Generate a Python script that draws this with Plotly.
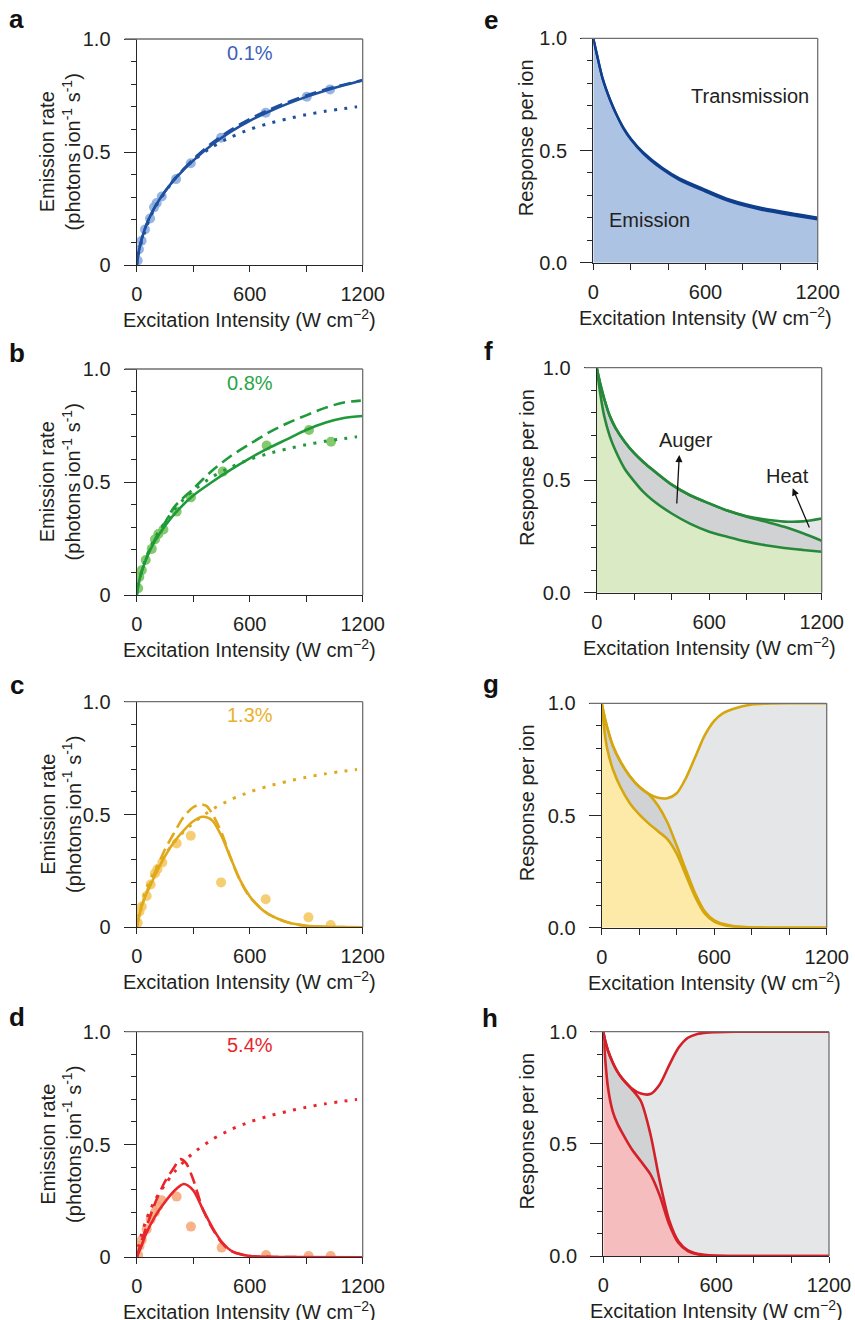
import plotly.graph_objects as go

W, H = 855, 1320
FONT = "Liberation Sans, Arial, Helvetica, sans-serif"
TXT = "#231f20"
AX = "#262626"
FRAME = "#707070"

# ---------------- data ----------------
# Excitation intensity (W cm^-2) vs emission rate (photons ion^-1 s^-1)

# model without heating (dotted, same in every left panel)
ref_x = [0, 10, 25, 50, 75, 100, 150, 200, 250, 300, 400, 500, 600, 700, 800, 900, 1000, 1100, 1170]
ref_y = [0, 0.05, 0.10, 0.165, 0.215, 0.258, 0.322, 0.378, 0.424, 0.462, 0.522, 0.566, 0.600,
         0.626, 0.647, 0.665, 0.680, 0.692, 0.700]

# 0.1 %
a_pts_x = [5, 12, 26, 44, 71, 92, 106, 133, 209, 287, 448, 685, 903, 1027]
a_pts_y = [0.02, 0.07, 0.107, 0.157, 0.206, 0.255, 0.274, 0.303, 0.38, 0.45, 0.563, 0.674, 0.745, 0.777]
a_fit_x = [0, 10, 25, 50, 75, 100, 150, 200, 300, 400, 500, 600, 700, 800, 900, 1000, 1100, 1200]
a_full_y = [0, 0.055, 0.11, 0.175, 0.222, 0.262, 0.325, 0.378, 0.462, 0.532, 0.59, 0.638, 0.678,
            0.713, 0.744, 0.771, 0.795, 0.816]
a_auger_y = [0, 0.055, 0.11, 0.175, 0.222, 0.262, 0.325, 0.38, 0.468, 0.54, 0.598, 0.646, 0.686,
             0.72, 0.75, 0.776, 0.798, 0.818]

# 0.8 %
b_pts_x = [8, 14, 27, 48, 80, 97, 115, 142, 212, 288, 457, 690, 915, 1032]
b_pts_y = [0.03, 0.08, 0.11, 0.155, 0.204, 0.246, 0.27, 0.29, 0.369, 0.432, 0.546, 0.661, 0.73, 0.678]
b_full_x = [0, 10, 25, 50, 75, 100, 150, 200, 300, 400, 500, 600, 700, 800, 900, 1000, 1100, 1200]
b_full_y = [0, 0.05, 0.10, 0.158, 0.205, 0.243, 0.305, 0.358, 0.44, 0.50, 0.555, 0.605, 0.65,
            0.69, 0.73, 0.762, 0.783, 0.792]
b_auger_x = [0, 10, 25, 50, 75, 100, 150, 200, 300, 400, 500, 600, 700, 800, 900, 1000, 1100, 1190]
b_auger_y = [0, 0.05, 0.10, 0.16, 0.21, 0.25, 0.32, 0.39, 0.47, 0.55, 0.615, 0.668, 0.718,
             0.76, 0.795, 0.828, 0.852, 0.86]

# 1.3 %
c_pts_x = [5, 15, 27, 53, 74, 97, 110, 136, 212, 287, 448, 685, 912, 1030]
c_pts_y = [0.02, 0.07, 0.092, 0.139, 0.19, 0.239, 0.257, 0.287, 0.372, 0.406, 0.199, 0.124, 0.044, 0.01]
c_full_x = [0, 25, 50, 75, 100, 150, 200, 250, 300, 350, 400, 450, 500, 550, 600, 650, 700, 800,
            900, 1000, 1100, 1200]
c_full_y = [0, 0.09, 0.145, 0.19, 0.235, 0.315, 0.38, 0.43, 0.47, 0.49, 0.475, 0.405, 0.305, 0.208,
            0.138, 0.09, 0.058, 0.022, 0.007, 0.002, 0.001, 0]
c_auger_x = [0, 25, 50, 100, 150, 200, 250, 300, 340, 370, 400, 450, 500, 550, 600, 700, 800, 900,
             1000, 1200]
c_auger_y = [0, 0.09, 0.15, 0.25, 0.345, 0.42, 0.49, 0.532, 0.545, 0.538, 0.505, 0.42, 0.305, 0.205,
             0.135, 0.058, 0.022, 0.006, 0.002, 0]

# 5.4 %
d_pts_x = [8, 15, 27, 53, 74, 97, 113, 133, 212, 288, 451, 687, 913, 1030]
d_pts_y = [0.01, 0.05, 0.077, 0.124, 0.168, 0.2, 0.225, 0.253, 0.269, 0.136, 0.043, 0.01, 0.006, 0.006]
d_full_x = [0, 25, 50, 100, 150, 200, 250, 300, 350, 400, 450, 500, 550, 600, 700, 800, 1200]
d_full_y = [0, 0.05, 0.105, 0.185, 0.245, 0.295, 0.325, 0.297, 0.215, 0.135, 0.07, 0.03, 0.013,
            0.006, 0.002, 0.001, 0]
d_auger_x = [0, 25, 50, 100, 150, 200, 230, 260, 300, 350, 400, 450, 500, 600, 800, 1200]
d_auger_y = [0, 0.07, 0.13, 0.245, 0.335, 0.40, 0.435, 0.42, 0.345, 0.215, 0.13, 0.066, 0.028,
             0.006, 0.001, 0]

# response per ion, 0.1 %
e_x = [0, 20, 50, 90, 125, 160, 200, 270, 370, 460, 600, 730, 900, 1090, 1200]
e_emis = [1, 0.925, 0.82, 0.725, 0.658, 0.6, 0.55, 0.484, 0.416, 0.369, 0.317, 0.273, 0.236, 0.208, 0.193]
e_trans = [1, 0.925, 0.82, 0.725, 0.658, 0.603, 0.554, 0.489, 0.422, 0.376, 0.325, 0.281, 0.244, 0.216, 0.201]

# response per ion, 0.8 %
f_x = [0, 20, 40, 70, 100, 150, 200, 250, 300, 400, 500, 600, 700, 800, 900, 1000, 1100, 1200]
f_emis = [1, 0.88, 0.785, 0.695, 0.632, 0.55, 0.495, 0.447, 0.41, 0.352, 0.306, 0.271, 0.248,
          0.227, 0.211, 0.199, 0.19, 0.182]
f_auger = [1, 0.925, 0.862, 0.785, 0.733, 0.67, 0.62, 0.58, 0.545, 0.48, 0.432, 0.397, 0.364,
           0.338, 0.316, 0.293, 0.264, 0.231]
f_heat = [1, 0.925, 0.862, 0.785, 0.733, 0.67, 0.62, 0.58, 0.545, 0.48, 0.432, 0.397, 0.364,
          0.34, 0.325, 0.316, 0.317, 0.33]

# response per ion, 1.3 %
g_x = [0, 15, 30, 60, 100, 150, 200, 250, 300, 350, 400, 450, 500, 550, 600, 650, 700, 800, 900, 1000, 1200]
g_emis = [1, 0.875, 0.795, 0.705, 0.627, 0.555, 0.505, 0.465, 0.43, 0.395, 0.33, 0.232, 0.135,
          0.062, 0.027, 0.012, 0.005, 0.001, 0, 0, 0]
g_auger = [1, 0.94, 0.89, 0.81, 0.74, 0.675, 0.628, 0.596, 0.545, 0.47, 0.366, 0.255, 0.15,
           0.072, 0.033, 0.016, 0.007, 0.001, 0, 0, 0]
g_heat = [1, 0.94, 0.89, 0.81, 0.74, 0.675, 0.628, 0.596, 0.579, 0.577, 0.599, 0.668, 0.763,
          0.858, 0.922, 0.957, 0.975, 0.995, 0.999, 1, 1]

# response per ion, 5.4 %
h_x = [0, 10, 25, 50, 75, 100, 150, 200, 250, 300, 350, 400, 450, 500, 550, 600, 700, 800, 1200]
h_emis = [1, 0.88, 0.75, 0.645, 0.59, 0.55, 0.478, 0.422, 0.365, 0.27, 0.142, 0.058, 0.022,
          0.008, 0.003, 0.001, 0, 0, 0]
h_auger = [1, 0.96, 0.915, 0.863, 0.822, 0.792, 0.745, 0.69, 0.545, 0.335, 0.16, 0.065, 0.025,
           0.01, 0.004, 0.001, 0, 0, 0]
h_heat = [1, 0.96, 0.915, 0.863, 0.822, 0.792, 0.748, 0.724, 0.722, 0.765, 0.85, 0.928, 0.973,
          0.99, 0.996, 0.998, 1, 1, 1]

# ---------------- layout helpers ----------------
# plot-area boxes in pixels: left, top, right, bottom
BOXES = {
    "a": (136.7, 39.0, 362.7, 265.0),
    "b": (136.7, 369.0, 362.7, 595.0),
    "c": (136.7, 701.7, 362.7, 927.3),
    "d": (136.7, 1031.7, 362.7, 1257.3),
    "e": (593.3, 38.3, 817.7, 262.7),
    "f": (596.7, 367.7, 821.7, 592.7),
    "g": (601.7, 703.3, 826.7, 927.7),
    "h": (603.3, 1031.7, 829.0, 1256.0),
}
ORDER = ["a", "b", "c", "d", "e", "f", "g", "h"]


def ax_ids(key):
    i = ORDER.index(key) + 1
    s = "" if i == 1 else str(i)
    return "x" + s, "y" + s, "xaxis" + s, "yaxis" + s


def px(xp):
    return xp / W


def py(yp):
    return 1 - yp / H


fig = go.Figure()
layout_axes = {}
annotations = []
shapes = []


def make_axes(key, left_style):
    l, t, r, b = BOXES[key]
    xid, yid, xname, yname = ax_ids(key)
    minor_x = [300, 900] if left_style else [200, 400, 800, 1000]
    layout_axes[xname] = dict(
        domain=[px(l), px(r)], anchor=yid, range=[0, 1200], automargin=False,
        tickmode="array", tickvals=[0, 600, 1200], ticktext=["0", "600", "1200"],
        ticks="outside", ticklen=6, tickwidth=1.3, tickcolor=AX,
        minor=dict(tickmode="array", tickvals=minor_x, ticks="outside",
                   ticklen=6, tickwidth=1.3, tickcolor=AX),
        showline=True, linecolor=AX, linewidth=1.3, mirror=False,
        showgrid=False, zeroline=False, fixedrange=True,
        tickfont=dict(family=FONT, size=20, color=TXT), ticklabelstandoff=5,
    )
    layout_axes[yname] = dict(
        domain=[py(b), py(t)], anchor=xid, range=[0, 1], automargin=False,
        tickmode="array", tickvals=[0, 0.5, 1],
        ticktext=["0", "0.5", "1.0"] if left_style else ["0.0", "0.5", "1.0"],
        ticks="outside", ticklen=12, tickwidth=1.3, tickcolor=AX,
        minor=dict(tickmode="array", tickvals=[0.1, 0.2, 0.3, 0.4, 0.6, 0.7, 0.8, 0.9],
                   ticks="outside", ticklen=5, tickwidth=1.3, tickcolor=AX),
        showline=True, linecolor=AX, linewidth=1.3, mirror=False,
        showgrid=False, zeroline=False, fixedrange=True,
        tickfont=dict(family=FONT, size=20, color=TXT), ticklabelstandoff=9,
    )
    # lighter top and right frame lines
    shapes.append(dict(type="line", xref="paper", yref="paper", layer="above",
                       x0=px(l - 12), x1=px(r), y0=py(t), y1=py(t),
                       line=dict(color=FRAME, width=1.3)))
    shapes.append(dict(type="line", xref="paper", yref="paper", layer="above",
                       x0=px(r), x1=px(r), y0=py(t), y1=py(b),
                       line=dict(color=FRAME, width=1.3)))
    # x-axis title
    annotations.append(dict(
        text="Excitation Intensity (W cm<sup>\u22122</sup>)", xref="paper", yref="paper",
        x=px((l + r) / 2), y=py(b + 53.6), xanchor="center", yanchor="middle",
        showarrow=False, font=dict(family=FONT, size=20, color=TXT)))
    # y-axis title
    if left_style:
        annotations.append(dict(
            text="Emission rate<br>(photons ion<sup>-1</sup> s<sup>-1</sup>)",
            xref="paper", yref="paper", x=px(60.4), y=py((t + b) / 2),
            xanchor="center", yanchor="middle", textangle=-90, showarrow=False,
            font=dict(family=FONT, size=20, color=TXT)))
    else:
        annotations.append(dict(
            text="Response per ion", xref="paper", yref="paper",
            x=px(526.7), y=py((t + b) / 2 - 13), xanchor="center", yanchor="middle",
            textangle=-90, showarrow=False, font=dict(family=FONT, size=20, color=TXT)))
    return xid, yid


def line(xid, yid, xs, ys, color, width=2.6, dash=None, fill=None, fillcolor=None):
    fig.add_trace(go.Scatter(
        x=xs, y=ys, xaxis=xid, yaxis=yid, mode="lines",
        line=dict(color=color, width=width, dash=dash, shape="spline", smoothing=0.8),
        fill=fill, fillcolor=fillcolor, showlegend=False, hoverinfo="skip"))


# ---------------- emission-rate panels ----------------
left_panels = [
    ("a", a_pts_x, a_pts_y, a_fit_x, a_full_y, a_fit_x, a_auger_y, "#1f4f9f", "#85a8dd", "0.1%", "#3d5fba"),
    ("b", b_pts_x, b_pts_y, b_full_x, b_full_y, b_auger_x, b_auger_y, "#1f9a3a", "#6fbf55", "0.8%", "#28a546"),
    ("c", c_pts_x, c_pts_y, c_full_x, c_full_y, c_auger_x, c_auger_y, "#e0a91c", "#f3c558", "1.3%", "#e9b22c"),
    ("d", d_pts_x, d_pts_y, d_full_x, d_full_y, d_auger_x, d_auger_y, "#e8262c", "#f6a476", "5.4%", "#e8262c"),
]
for key, ptx, pty, sx, sy, dx, dy, lc, mc, lab, labc in left_panels:
    xid, yid = make_axes(key, True)
    fig.add_trace(go.Scatter(
        x=ptx, y=pty, xaxis=xid, yaxis=yid, mode="markers",
        marker=dict(color=mc, size=10, opacity=0.85, line=dict(width=0)),
        showlegend=False, hoverinfo="skip"))
    line(xid, yid, ref_x, ref_y, lc, width=3, dash="3px,7.5px")
    line(xid, yid, dx, dy, lc, width=2.6, dash="12px,6px")
    line(xid, yid, sx, sy, lc, width=2.6)
    l, t, r, b = BOXES[key]
    annotations.append(dict(
        text=lab, xref="paper", yref="paper", x=px((l + r) / 2), y=py(t + 13.5),
        xanchor="center", yanchor="middle", showarrow=False,
        font=dict(family=FONT, size=20, color=labc)))

# ---------------- response-per-ion panels ----------------
# e: single emission curve under a transmission boundary
xid, yid = make_axes("e", False)
line(xid, yid, e_x, e_emis, "rgba(0,0,0,0)", width=0, fill="tozeroy", fillcolor="#adc3e3")
line(xid, yid, e_x, e_trans, "#0f3f8c", width=2.4)
line(xid, yid, e_x, e_emis, "#0f3f8c", width=2.4)

right_panels = [
    ("f", f_x, f_emis, f_auger, f_heat, "#26893a", "#d9eac4"),
    ("g", g_x, g_emis, g_auger, g_heat, "#d5a60e", "#fdeaa8"),
    ("h", h_x, h_emis, h_auger, h_heat, "#d42029", "#f5bdbd"),
]
for key, xs, emis, auger, heat, lc, fc in right_panels:
    xid, yid = make_axes(key, False)
    line(xid, yid, xs, emis, "rgba(0,0,0,0)", width=0, fill="tozeroy", fillcolor=fc)
    line(xid, yid, xs, auger, "rgba(0,0,0,0)", width=0, fill="tonexty", fillcolor="#d1d2d4")
    line(xid, yid, xs, heat, "rgba(0,0,0,0)", width=0, fill="tonexty", fillcolor="#e5e6e8")
    line(xid, yid, xs, heat, lc, width=2.6)
    line(xid, yid, xs, auger, lc, width=2.6)
    line(xid, yid, xs, emis, lc, width=2.6)

# ---------------- text ----------------
letters = {"a": (16.5, 28), "b": (17, 362), "c": (16.5, 694), "d": (16.7, 1026),
           "e": (490.5, 29), "f": (488.5, 360), "g": (490.5, 693), "h": (490, 1027)}
for k, (lx, lb) in letters.items():
    annotations.append(dict(
        text="<b>%s</b>" % k, xref="paper", yref="paper", x=px(lx), y=py(lb - 9),
        xanchor="center", yanchor="middle", showarrow=False,
        font=dict(family=FONT, size=26, color="#111111")))

region_labels = [("Transmission", 749.7, 96), ("Emission", 649.5, 219.8),
                 ("Auger", 685.5, 439.8), ("Heat", 787.7, 475.8)]
for txt, tx, ty in region_labels:
    annotations.append(dict(
        text=txt, xref="paper", yref="paper", x=px(tx), y=py(ty),
        xanchor="center", yanchor="middle", showarrow=False,
        font=dict(family=FONT, size=20, color=TXT)))

# arrows pointing into the Auger and heat bands
for hx, hy, tx, ty in [(679.3, 455, 676.7, 505), (792.7, 488.3, 810, 529)]:
    annotations.append(dict(
        text="", xref="paper", yref="paper", x=px(hx), y=py(hy),
        ax=tx - hx, ay=ty - hy, axref="pixel", ayref="pixel",
        showarrow=True, arrowhead=2, arrowsize=1.1, arrowwidth=1.3, arrowcolor="#111111"))

fig.update_layout(
    width=W, height=H, margin=dict(l=0, r=0, t=0, b=0, autoexpand=False),
    paper_bgcolor="white", plot_bgcolor="white",
    annotations=annotations, shapes=shapes, **layout_axes)

fig.write_html("out.html")
